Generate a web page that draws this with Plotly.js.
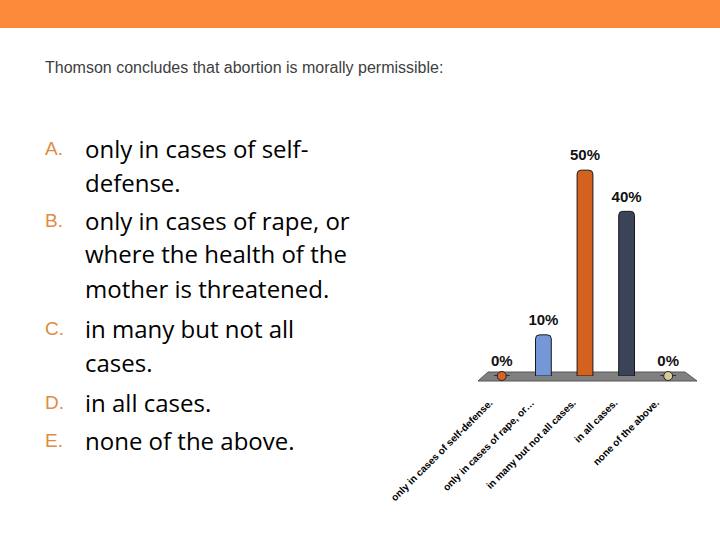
<!DOCTYPE html>
<html><head><meta charset="utf-8">
<script src="https://cdn.plot.ly/plotly-3.0.1.min.js"></script>
<style>html,body{margin:0;padding:0;background:#fff}#chart{width:720px;height:540px}</style>
</head><body><div id="chart"></div>
<script>
var categories = ["only in cases of self-defense.", "only in cases of rape, or…", "in many but not all cases.", "in all cases.", "none of the above."];
var values = [0, 10, 50, 40, 0];
var barColors = ["#D9622B", "#7597D8", "#D3621F", "#3A4358", "#D6CB96"];
var letters = ["A.", "B.", "C.", "D.", "E."];
var choiceLines = [["only in cases of self-", "defense."], ["only in cases of rape, or", "where the health of the", "mother is threatened."], ["in many but not all", "cases."], ["in all cases."], ["none of the above."]];
var titleText = "Thomson concludes that abortion is morally permissible:";

var W = 720, H = 540;
function px(x){return x / W;}
function py(y){return 1 - y / H;}

var traces = [{
  type: "bar", x: categories, y: values,
  marker: {color: barColors, line: {color: "#1a1a1a", width: 1}, cornerradius: 4},
  width: 0.38, hoverinfo: "skip"
}];
var zx = [], zc = [];
values.forEach(function(v, i){ if (v === 0) { zx.push(categories[i]); zc.push(barColors[i]); } });
traces.push({type: "scatter", mode: "markers", x: zx, y: zx.map(function(){return 0;}),
  marker: {symbol: "circle", size: 9, color: zc, line: {color: "#222", width: 1}},
  cliponaxis: false, hoverinfo: "skip", showlegend: false});
traces.push({type: "scatter", mode: "markers+text", x: categories, y: values,
  text: values.map(function(v){return v + "%";}), textposition: "top center",
  marker: {size: 8, opacity: 0},
  textfont: {family: "Liberation Sans", size: 15, weight: "bold", color: "#111"},
  cliponaxis: false, hoverinfo: "skip", showlegend: false});

var ann = [{
  text: titleText, xref: "paper", yref: "paper", x: px(43), y: py(68), xanchor: "left", yanchor: "middle",
  showarrow: false, font: {family: "Liberation Sans", size: 16, color: "#404040"}
}];
var lineY = [[148, 182], [221, 254, 288], [328, 362], [402], [440]];
choiceLines.forEach(function(lines, i){
  ann.push({text: letters[i], xref: "paper", yref: "paper", x: px(43), y: py(lineY[i][0]), xanchor: "left", yanchor: "middle",
    showarrow: false, font: {family: "Liberation Sans", size: 19, color: "#E08A45"}});
  lines.forEach(function(t, j){
    ann.push({text: t, xref: "paper", yref: "paper", x: px(83), y: py(lineY[i][j]), xanchor: "left", yanchor: "middle",
      showarrow: false, font: {family: "Open Sans", size: 24, color: "#000"}});
  });
});

var layout = {
  width: W, height: H, margin: {l: 0, r: 0, t: 0, b: 0},
  paper_bgcolor: "#fff", plot_bgcolor: "rgba(0,0,0,0)", showlegend: false,
  xaxis: {domain: [px(481), px(689)], range: [-0.5, 4.5], showgrid: false, zeroline: false, showline: false,
    ticks: "", tickangle: -45, ticklabelstandoff: 18, ticklabelshift: -12,
    tickfont: {family: "Liberation Sans", size: 10, weight: "bold", color: "#000"}},
  yaxis: {domain: [py(376), py(129)], range: [0, 60], visible: false},
  shapes: [
    {type: "rect", xref: "paper", yref: "paper", x0: 0, x1: 1, y0: py(28), y1: 1, fillcolor: "#FD8A3A", line: {width: 0}, layer: "below"},
    {type: "path", xref: "paper", yref: "paper", layer: "below",
     path: "M " + px(488) + "," + py(372) + " L " + px(685) + "," + py(372) + " L " + px(697) + "," + py(381) + " L " + px(478) + "," + py(381) + " Z",
     fillcolor: "#808080", line: {color: "#555", width: 1}}
  ],
  annotations: ann
};
Plotly.newPlot("chart", traces, layout, {staticPlot: true, displayModeBar: false});
</script></body></html>
